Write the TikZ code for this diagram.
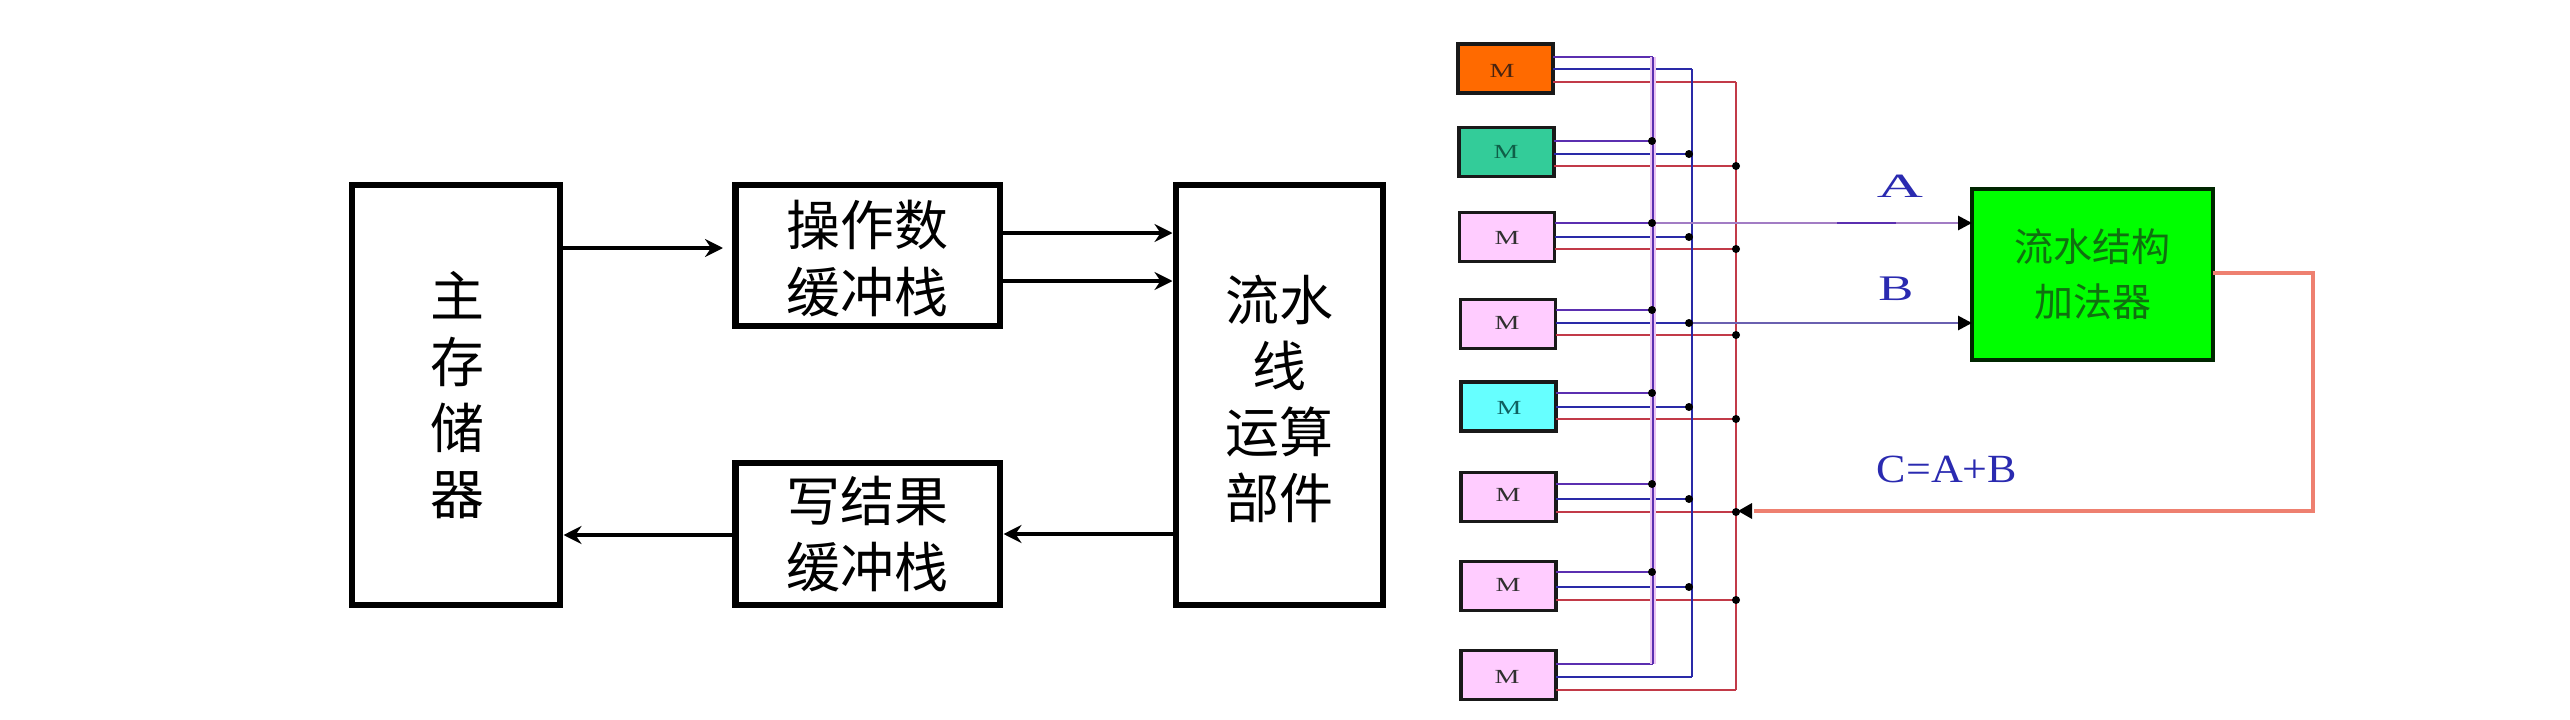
\documentclass[tikz,border=0pt]{standalone}
\usepackage{fontspec}
\usepackage{graphicx}
\setmainfont{Liberation Serif}
\newfontfamily\cjk{Noto Sans CJK SC}
\usetikzlibrary{arrows.meta,calc}
\definecolor{wpur}{HTML}{5B2FB0}
\definecolor{wblu}{HTML}{2A2AA8}
\definecolor{wred}{HTML}{C23A48}
\definecolor{wsal}{HTML}{EE8070}
\definecolor{lab}{HTML}{2A2AB0}
\definecolor{wa}{HTML}{A27CC4}
\definecolor{wb}{HTML}{6A60B0}
\definecolor{halo}{HTML}{EBC4F2}
\tikzset{
  x=1pt,y=-1pt,
  bigbox/.style={draw=black,line width=6.5pt,fill=white,outer sep=0pt,inner sep=0pt},
  bigtext/.style={inner sep=0pt,align=center,font=\cjk\fontsize{54}{66}\selectfont},
  flow/.style={draw=black,line width=3.5pt,-{Stealth[length=18pt,width=18pt,inset=6pt]}},
  mem/.style={draw=black!90,line width=3.8pt,minimum width=95pt,minimum height=49pt,outer sep=0pt,inner sep=0pt},
  mlabel/.style={inner sep=0pt,font=\fontsize{20}{24}\selectfont},
  wire/.style={line width=2.8pt},
  dot/.style={circle,fill=black,inner sep=0pt,minimum size=8pt},
  feed/.style={line width=2.8pt,-{Triangle[length=14pt,width=14pt,black]}},
  adder/.style={draw=black!85!green,line width=4.5pt,fill=green,minimum width=241pt,minimum height=171pt,outer sep=0pt,inner sep=0pt,
     align=center,text={rgb,255:red,16;green,112;blue,16},font=\cjk\fontsize{39}{55}\selectfont},
  blab/.style={text=lab,inner sep=0pt},
}
\begin{document}
\begin{tikzpicture}
\useasboundingbox (0,0) rectangle (2570,720);
% left diagram
\node[bigbox,minimum width=208pt,minimum height=420pt] (main) at (456,395) {};
\node[bigbox,minimum width=264.5pt,minimum height=141pt] (op) at (867.75,255.5) {};
\node[bigbox,minimum width=264.5pt,minimum height=142pt] (res) at (867.75,534) {};
\node[bigbox,minimum width=207pt,minimum height=420pt] (pipe) at (1279.5,395) {};
\node[bigtext] (maintext) at ($(main)+(1,0)$) {主\\存\\储\\器};
\node[bigtext,font=\cjk\fontsize{54}{67}\selectfont] (optext) at ($(op)+(0,3)$) {操作数\\缓冲栈};
\node[bigtext] (restext) at ($(res)+(0,0)$) {写结果\\缓冲栈};
\node[bigtext] (pipetext) at ($(pipe)+(0,4)$) {流水\\线\\运算\\部件};
\coordinate (mo) at (main.east |- 0,248);
\coordinate (om) at (723,248);
\draw[flow] (mo) -- (om);
\coordinate (o1) at (op.east |- 0,233);
\coordinate (o2) at (op.east |- 0,281);
\draw[flow,shorten >=3.5pt] (o1) -- (pipe.west |- o1);
\draw[flow,shorten >=3.5pt] (o2) -- (pipe.west |- o2);
\coordinate (p3) at (pipe.west |- 0,534);
\draw[flow,shorten >=3.5pt] (p3) -- (res.east |- p3);
\coordinate (r3) at (res.west |- 0,535);
\draw[flow,shorten >=3.5pt] (r3) -- (main.east |- r3);
% memory modules
\foreach \n/\cx/\cy/\col/\tx/\lx/\ly/\txt in {
 1/1505.5/68.5/FF6A00/4A2410/1502/71/M,
 2/1506.5/152/33CC99/0F5F48/1506/152/M,
 3/1507/237/FFCCFF/303030/1507/238/M,
 4/1508/324/FFCCFF/303030/1507/323/M,
 5/1508.5/406.5/66FFFF/0F6060/1509/408/M,
 6/1508.5/497/FFCCFF/303030/1508/495/M,
 7/1508.5/586/FFCCFF/303030/1508/585/M,
 8/1508.5/675/FFCCFF/303030/1507/677/M}{
  \definecolor{mfill}{HTML}{\col}
  \definecolor{mtext}{HTML}{\tx}
  \node[mem,fill=mfill] (m\n) at (\cx,\cy) {};
  \node[mlabel,text=mtext] (t\n) at (\lx,\ly) {\scalebox{1.4}[1]{\txt}};
}
% bus ends and taps
\foreach \n/\pa/\pb/\pc in {1/57/69/82,2/141/154/166,3/223/237/249,4/310/323/335,5/393/407/419,6/484/499/512,7/572/587/600,8/664/677/690}{
  \coordinate (pu\n) at (1653,\pa);
  \coordinate (bl\n) at (1692,\pb);
  \coordinate (rd\n) at (1736,\pc);
  \draw[wire,wpur] (m\n.east |- pu\n) -- (pu\n);
  \draw[wire,wblu] (m\n.east |- bl\n) -- (bl\n);
  \draw[wire,wred] (m\n.east |- rd\n) -- (rd\n);
}
\draw[halo,line width=5.5pt] (pu1) -- (pu8);
\draw[wire,wpur] (pu1) -- (pu8);
\draw[wire,wblu] (bl1) -- (bl8);
\draw[wire,wred] (rd1) -- (rd8);
% adder
\node[adder] (add) at (2092.5,274.5) {流水结构\\加法器};
\coordinate (aa) at (add.west |- pu3);
\coordinate (bb) at (add.west |- bl4);
\draw[feed,wa] (pu3) -- (aa);
\draw[wire,wpur] (1837,223) -- (1896,223);
\draw[feed,wb] (bl4) -- (bb);
\coordinate (c1) at (add.east |- 0,273);
\coordinate (c2) at (2313,273);
\coordinate (c3) at (2313,511);
\coordinate (c4) at (1754,511);
\coordinate (c5) at (1738,511);
\draw[wsal,line width=3.2pt] (c1) -- (c2) -- (c3) -- (c4);
\fill[black] (c5) -- (1752,503) -- (1752,519) -- cycle;
\foreach \n in {2,...,7}{
  \node[dot] (dp\n) at ($(pu\n)+(-1,0)$) {};
  \node[dot] (db\n) at ($(bl\n)+(-3,0)$) {};
  \node[dot] (dr\n) at ($(rd\n)$) {};
}
% labels
\node[blab,font=\fontsize{34}{40}\selectfont] (la) at (1900,186) {\scalebox{1.88}[1]{A}};
\node[blab,font=\fontsize{36}{42}\selectfont] (lb) at (1896,289) {\scalebox{1.46}[1]{B}};
\node[blab,font=\fontsize{40}{46}\selectfont] (lc) at (1947,469) {\scalebox{1.1}[1]{C=A+B}};
\end{tikzpicture}
\end{document}
